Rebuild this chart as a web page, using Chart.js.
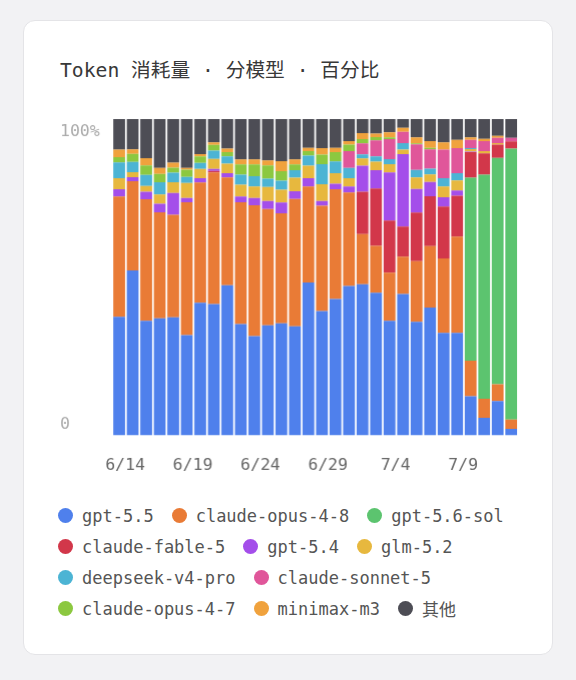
<!DOCTYPE html>
<html>
<head>
<meta charset="utf-8">
<script src="https://cdn.jsdelivr.net/npm/chart.js@4.4.1/dist/chart.umd.min.js"></script>
<style>
  html, body { margin: 0; padding: 0; }
  body {
    width: 576px;
    height: 680px;
    background: #f2f2f4;
    position: relative;
    overflow: hidden;
    font-family: "DejaVu Sans Mono", "Noto Sans CJK SC", monospace;
  }
  .card {
    position: absolute;
    left: 23px;
    top: 20px;
    width: 530px;
    height: 635px;
    box-sizing: border-box;
    background: #fff;
    border: 1px solid #e4e4e7;
    border-radius: 12px;
  }
  .title {
    position: absolute;
    left: 60px;
    top: 59px;
    font-size: 19.7px;
    line-height: 24px;
    color: #383838;
    white-space: pre;
  }
  .chartWrap {
    position: absolute;
    left: 60px;
    top: 109.4px;
    width: 470.8px;
    height: 386.6px;
  }
  #legend {
    position: absolute;
    left: 58px;
    top: 500px;
    width: 490px;
    display: flex;
    flex-wrap: wrap;
    font-size: 17px;
    color: #555;
  }
  .item {
    display: flex;
    align-items: center;
    height: 31px;
    margin-right: 18px;
    white-space: pre;
  }
  .dot {
    width: 15px;
    height: 15px;
    border-radius: 50%;
    margin-right: 9px;
  }
</style>
</head>
<body>
<div class="card"></div>
<div class="title">Token 消耗量 · 分模型 · 百分比</div>
<div class="chartWrap"><canvas id="myChart"></canvas></div>
<div id="legend"></div>

<script>
// days on the x axis
const dates = [
  "6/14", "6/15", "6/16", "6/17", "6/18", "6/19", "6/20", "6/21", "6/22", "6/23",
  "6/24", "6/25", "6/26", "6/27", "6/28", "6/29", "6/30", "7/1", "7/2", "7/3",
  "7/4", "7/5", "7/6", "7/7", "7/8", "7/9", "7/10", "7/11", "7/12", "7/13",
];
const shownDates = ["6/14", "6/19", "6/24", "6/29", "7/4", "7/9"];
const yTickValues = [0, 100];
const yTickLabels = ["0", "100%"];

// share of tokens per model, in percent (bottom of the stack first)
const gpt55 = [37.5, 52.1, 36.2, 37.0, 37.3, 31.7, 41.9, 41.5, 47.5, 35.2, 31.4, 34.8, 35.4, 34.5, 48.3, 39.3, 43.1, 47.2, 47.8, 45.1, 36.2, 44.7, 35.9, 40.4, 32.4, 32.4, 12.4, 5.6, 10.9, 2.1];
const opus48 = [38.0, 28.2, 38.4, 33.5, 32.4, 42.0, 38.0, 41.6, 34.0, 38.5, 41.3, 36.7, 34.8, 40.2, 30.4, 33.3, 34.7, 29.6, 15.8, 14.8, 15.2, 11.8, 19.2, 19.4, 23.5, 30.4, 11.2, 6.0, 5.3, 2.9];
const sol56 = [0, 0, 0, 0, 0, 0, 0, 0, 0, 0, 0, 0, 0, 0, 0, 0, 0, 0, 0, 0, 0, 0, 0, 0, 0, 0, 57.8, 70.8, 71.5, 85.6];
const fable5 = [0, 0, 0, 0, 0, 0, 0, 0.5, 0, 0, 0, 0, 0, 0, 0, 0, 0, 0, 13.4, 18.1, 16.5, 9.5, 15.3, 15.8, 16.4, 12.9, 8.1, 6.7, 4.2, 2.3];
const gpt54 = [2.3, 1.3, 2.4, 2.7, 6.9, 1.3, 1.4, 0.6, 1.4, 1.8, 2.3, 2.6, 3.4, 2.5, 2.6, 1.5, 1.7, 1.9, 8.2, 5.8, 15.2, 22.9, 7.5, 4.5, 3.0, 1.7, 0.2, 0, 0, 0];
const glm52 = [3.5, 1.6, 1.8, 2.9, 3.4, 4.8, 2.9, 3.2, 3.0, 3.7, 3.7, 4.4, 4.0, 4.2, 3.9, 5.3, 3.4, 2.6, 2.3, 2.7, 2.6, 1.4, 3.6, 2.4, 3.4, 3.2, 0.8, 0.7, 0.5, 0];
const deepseek = [5.0, 3.2, 3.5, 3.9, 3.0, 1.9, 1.9, 2.6, 2.3, 3.2, 3.2, 2.6, 2.9, 2.4, 3.2, 6.3, 3.7, 3.2, 1.3, 1.7, 1.6, 2.1, 2.4, 1.8, 2.6, 2.3, 0.3, 0, 0, 0];
const sonnet5 = [0, 0, 0, 0, 0, 0, 0, 0, 0, 0, 0, 0, 0, 0, 0, 0, 0, 5.3, 3.5, 5.0, 6.3, 3.5, 8.1, 6.1, 9.0, 7.9, 2.6, 3.2, 1.6, 1.1];
const opus47 = [1.6, 2.6, 3.0, 2.6, 1.6, 2.3, 2.1, 1.8, 1.3, 3.2, 3.7, 4.2, 3.0, 1.8, 1.4, 3.0, 2.9, 2.1, 1.3, 1.1, 0.6, 0, 0.3, 0.5, 0, 0, 0, 0, 0, 0];
const minimax = [2.4, 1.4, 2.3, 1.9, 1.6, 0.5, 0.7, 0.8, 1.1, 1.6, 1.6, 1.6, 3.2, 1.6, 1.1, 2.1, 1.4, 1.1, 1.9, 1.1, 1.6, 1.3, 1.9, 2.1, 2.3, 2.6, 0.8, 0.7, 0.7, 0];
const others = [9.7, 9.6, 12.4, 15.5, 13.8, 15.5, 11.1, 7.4, 9.4, 12.8, 12.8, 13.1, 13.3, 12.8, 9.1, 9.2, 9.1, 7.0, 4.5, 4.6, 4.2, 2.8, 5.8, 7.0, 7.4, 6.6, 5.8, 6.3, 5.3, 6.0];

const models = [
  "gpt-5.5", "claude-opus-4-8", "gpt-5.6-sol", "claude-fable-5", "gpt-5.4", "glm-5.2",
  "deepseek-v4-pro", "claude-sonnet-5", "claude-opus-4-7", "minimax-m3", "其他",
];
const series = [gpt55, opus48, sol56, fable5, gpt54, glm52, deepseek, sonnet5, opus47, minimax, others];
const colors = [
  "#4f80ec", "#e97b36", "#5cc46f", "#d2374a", "#a44eea", "#e7b83e",
  "#4cb4d4", "#e0569a", "#8cc840", "#f0a23d", "#4d4d55",
];

const data = {
  labels: dates,
  datasets: models.map((name, i) => ({
    label: name,
    data: series[i],
    backgroundColor: colors[i],
    borderWidth: 0,
    barPercentage: 0.87,
    categoryPercentage: 1,
  })),
};

const tickFont = { family: "'DejaVu Sans Mono', monospace", size: 16.5 };

const config = {
  type: "bar",
  data: data,
  options: {
    responsive: true,
    maintainAspectRatio: false,
    animation: false,
    layout: { padding: 0 },
    scales: {
      x: {
        stacked: true,
        grid: { display: false, drawTicks: false },
        border: { display: false },
        ticks: {
          autoSkip: false,
          maxRotation: 0,
          padding: 20.6,
          labelOffset: 6,
          color: "#666",
          font: tickFont,
          callback: function (value, index) {
            return shownDates.includes(dates[index]) ? dates[index] : "";
          },
        },
      },
      y: {
        stacked: true,
        min: 0,
        max: 100,
        display: false,
      },
      // label-only axis, its ticks sit a little inside the bar ends
      yl: {
        type: "linear",
        position: "left",
        min: -3.76,
        max: 104.24,
        grid: { display: false, drawTicks: false },
        border: { display: false },
        afterBuildTicks: function (axis) {
          axis.ticks = yTickValues.map((v) => ({ value: v }));
        },
        afterFit: function (axis) {
          axis.width = 52.3;
        },
        ticks: {
          crossAlign: "far",
          padding: 0,
          color: "#aaa",
          font: tickFont,
          callback: function (value) {
            return yTickLabels[yTickValues.indexOf(value)];
          },
        },
      },
    },
    plugins: {
      legend: { display: false },
      tooltip: { enabled: false },
    },
  },
};
const myChart = new Chart(document.getElementById("myChart"), config);

// html legend
const legend = document.getElementById("legend");
models.forEach((name, i) => {
  const item = document.createElement("div");
  item.className = "item";
  item.innerHTML = `<span class="dot" style="background:${colors[i]}"></span>${name}`;
  legend.appendChild(item);
});
</script>
</body>
</html>
